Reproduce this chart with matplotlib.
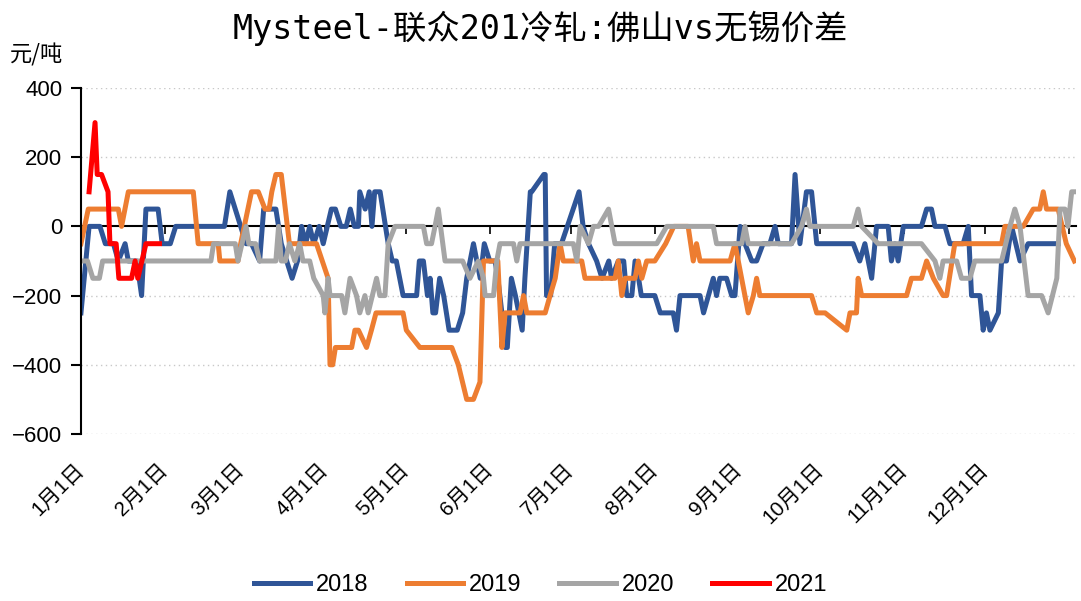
import matplotlib
matplotlib.use("Agg")
import matplotlib.pyplot as plt

plt.rcParams['font.family'] = ['Liberation Sans', 'Noto Sans CJK SC', 'DejaVu Sans']

# day of year (0 = 1月1日) and price gap
days_2018 = [0, 3, 7, 9, 11, 12, 13.8, 16.3, 17.5, 20.6, 22.4, 24, 28.5, 30, 33, 35, 53, 55, 57, 59, 61, 63, 66,
             67.5, 70, 72, 74, 76, 78, 80, 81.5, 83, 84.5, 86, 88, 89.5, 92.5, 94, 96, 98, 99.5, 101, 102.5, 103,
             105, 106.5, 107.5, 108.5, 110.5, 113.5, 115, 116.5, 119, 124, 125, 126.5, 128, 129, 130, 131, 132.5,
             134, 136, 139, 141, 142.5, 145, 147.5, 149, 151, 153, 154, 155.5, 156.7, 157.5, 159, 160.5, 163, 164,
             166, 166.5, 171, 171.5, 172, 173.5, 175, 177.5, 184, 185.5, 187.5, 190.5, 192.5, 195, 196, 198.5,
             200.5, 201.6, 203.5, 204.7, 206, 207, 212, 214, 218.8, 220, 221.3, 228.7, 230, 231.8, 233.6, 234.8,
             236, 238.5, 240.4, 241.6, 243.5, 245.3, 247.8, 249.6, 252, 254.5, 256.4, 257.6, 262.5, 263.8, 265.6,
             268, 269.9, 271.8, 285.3, 287.7, 289.6, 292.1, 293.9, 298.2, 299.4, 300.7, 301.9, 303.8, 310.5,
             312.4, 314.2, 315.5, 319.2, 321, 325.9, 327.8, 329, 332.1, 333.3, 334.5, 335.8, 338.9, 340.1, 341.9,
             343.8, 346.9, 349.9, 361]
vals_2018 = [-250, 0, 0, -50, -50, -50, -100, -50, -100, -100, -200, 50, 50, -50, -50, 0, 0, 100, 50, 0, -50, -50, -100,
             50, 50, 50, -50, -100, -150, -100, 0, -50, 0, -50, 0, -50, 50, 50, 0, 0, 50, 0, 0, 100,
             50, 100, 0, 100, 100, -50, -100, -100, -200, -200, -100, -100, -200, -150, -250, -250, -150,
             -200, -300, -300, -250, -150, -50, -150, -50, -100, -100, -150, -250, -350, -350, -150, -200, -300, -150,
             100, 100, 150, 150, -200, -200, -50, -50, 100, 0, -50, -100, -150, -100, -150, -100,
             -100, -200, -200, -100, -150, -200, -200, -250, -250, -300, -200, -200, -250, -200, -150, -200,
             -150, -150, -200, -200, 0, -50, -100, -100, -50, -50, 0, -50, -50, 150, -50,
             100, 100, -50, -50, -100, -50, -150, 0, 0, -100, -50, -100, 0, 0,
             50, 50, 0, 0, -50, -50, 0, -200, -200, -300, -250, -300, -250, -100, -100,
             0, -100, -50, -50]

days_2019 = [0, 2.7, 13.8, 15, 17.5, 41.5, 43.3, 50.7, 51.3, 58, 59, 63, 65.5, 68, 69.5, 70.5, 72, 74, 77, 87, 91.3,
             92, 93, 94, 100, 101.2, 102.5, 105.5, 107.3, 109, 119, 120.2, 125.2, 137, 139.4, 142.5, 145, 147.4,
             148.7, 154, 155.5, 156.7, 162.2, 163.5, 164.7, 171.5, 173.3, 175.2, 177, 178.2, 185, 186.2, 197.3,
             198.5, 199.8, 201, 204.7, 205.9, 207.2, 209, 212, 216, 219, 224.3, 226.2, 227.4, 228.7, 239.8, 241.6,
             246.5, 248.4, 249.6, 250.8, 269.9, 271.8, 274.9, 282.9, 284.1, 285.3, 286.5, 287.1, 288.4, 305, 306.8,
             310.5, 312.4, 314.9, 318.5, 319.8, 322.8, 340.1, 341.3, 348.1, 351.8, 354.2, 355.5, 356.7, 361, 364,
             367]
vals_2019 = [-50, 50, 50, 0, 100, 100, -50, -50, -100, -100, -50, 100, 100, 50, 50, 100, 150, 150, -50, -50, -150,
             -400, -400, -350, -350, -300, -300, -350, -300, -250, -250, -300, -350, -350, -400, -500, -500, -450,
             -100, -100, -350, -250, -250, -200, -250, -250, -200, -150, -50, -100, -100, -150, -150,
             -100, -200, -150, -150, -100, -150, -100, -100, -50, 0, 0, -100, -50, -100, -100, -50,
             -250, -200, -150, -200, -200, -250, -250, -300, -250, -250, -250, -150, -200, -200, -150,
             -150, -100, -150, -200, -200, -50, -50, 0, 0, 50, 50, 100, 50, 50, -50,
             -100]

days_2020 = [0, 2.4, 4.4, 6.8, 8, 48, 49, 57, 58, 61, 62, 64.5, 66, 72, 73, 74, 75.5, 77, 79, 80.8, 82, 84.5, 86,
             89.5, 90.1, 91.3, 92, 96.3, 97.5, 99.4, 101.8, 103, 104.9, 106.1, 109.2, 110.4, 112.3, 113.5, 116,
             126.5, 127.7, 129.5, 130.8, 132, 134.5, 141, 143.7, 146.8, 148.7, 149.3, 152.4, 153.6, 154.8, 159.8,
             161, 162.2, 181.9, 183.2, 184.4, 187.5, 189.3, 191.2, 194.9, 197.3, 212.7, 216.4, 233.6, 234.8, 244.1,
             245.3, 246.5, 262.5, 266.2, 268, 269.3, 285.3, 287.1, 288.4, 294.5, 310.5, 315.5, 317.3, 318.5,
             323.5, 325.3, 328.4, 330.2, 340.1, 343.2, 345, 346.9, 349.9, 354.9, 357.3, 360.5, 361.7, 363.5,
             364.6, 366, 367.5]
vals_2020 = [-100, -100, -150, -150, -100, -100, -50, -50, -100, 0, -50, -50, -100, -100, 0, -100, -100, -50, -100, -50,
             -100, -100, -150, -200, -250, -150, -200, -200, -250, -150, -200, -250, -200, -250, -150, -200, -200,
             -50, 0, 0, -50, -50, 0, 50, -100, -100, -150, -100, -150, -200, -200, -100, -50, -50,
             -100, -50, -50, -100, 0, -50, 0, 0, 50, -50, -50, 0, 0, -50, -50,
             0, -50, -50, 0, 50, 0, 0, 50, 0, -50, -50, -100, -150, -100,
             -100, -150, -150, -100, -100, 0, 50, 0, -200, -200, -250, -150, 50, 50,
             0, 100, 100]

days_2021 = [3, 5.2, 6, 7.6, 10, 10.7, 13, 14, 18.7, 20, 21, 24, 29]
vals_2021 = [100, 300, 150, 150, 100, -50, -50, -150, -150, -100, -150, -50, -50]

month_days = [31, 28, 31, 30, 31, 30, 31, 31, 30, 31, 30, 31]
month_labels = ["1月1日", "2月1日", "3月1日", "4月1日", "5月1日", "6月1日",
                "7月1日", "8月1日", "9月1日", "10月1日", "11月1日", "12月1日"]

fig = plt.figure(figsize=(10.81, 6.01), dpi=100)
ax = fig.add_axes([0.0749, 0.2779, 0.9205, 0.5757])

series = [(days_2018, vals_2018, '#2F5597', '2018'),
          (days_2019, vals_2019, '#ED7D31', '2019'),
          (days_2020, vals_2020, '#A5A5A5', '2020'),
          (days_2021, vals_2021, '#FF0000', '2021')]
for d, v, c, lab in series:
    ax.plot(d, v, color=c, lw=3.6, label=lab, solid_joinstyle='round')

# spine position first: moving it resets the ticks
for s in ['top', 'right']:
    ax.spines[s].set_visible(False)
ax.spines['bottom'].set_position(('data', 0))
ax.spines['bottom'].set_linewidth(1.5)
ax.spines['left'].set_linewidth(1.5)
ax.spines['bottom'].set_zorder(1)

ax.set_xlim(0, 367.6)
ax.set_ylim(-600, 400)
ax.set_yticks(range(-600, 401, 200))
for y in [-600, -400, -200, 200, 400]:
    ax.axhline(y, color='#c8c8c8', lw=1, ls=(0, (1, 2.5)), zorder=0)

starts = [0]
for m in month_days:
    starts.append(starts[-1] + m)
ax.set_xticks(starts)
ax.set_xticklabels(month_labels + [''], rotation=45, ha='right', va='center',
                   rotation_mode='anchor', fontsize=15)
ax.tick_params(axis='x', direction='out', length=6, width=1.2, pad=167)
ax.tick_params(axis='y', direction='out', length=7, width=1.5, labelsize=16, pad=6.5)

fig.text(0.5, 0.953, "Mysteel-联众201冷轧:佛山vs无锡价差", ha='center', va='center', fontsize=24,
         family=['DejaVu Sans Mono', 'Noto Sans CJK SC'])
fig.text(0.009, 0.908, "元/吨", ha='left', va='center', fontsize=16, family=['Noto Sans CJK SC'])

fig.legend(loc='center', bbox_to_anchor=(0.5, 0.026), ncol=4, frameon=False, fontsize=17,
           handlelength=2.4, handletextpad=0.25, columnspacing=1.6)

fig.savefig('out.png', dpi=100)
